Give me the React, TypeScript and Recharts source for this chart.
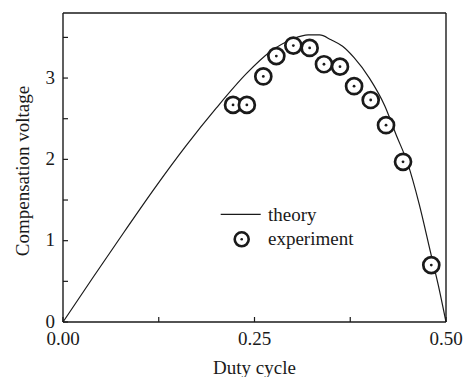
import {
  ComposedChart,
  Legend,
  Line,
  Scatter,
  XAxis,
  YAxis,
} from "recharts";

// Theory curve, read at irregular duty-cycle steps
const theoryDuty = [
  0, 0.04, 0.08, 0.12, 0.16, 0.2, 0.24, 0.27, 0.3, 0.32, 0.335, 0.35, 0.365,
  0.38, 0.4, 0.42, 0.435, 0.45, 0.465, 0.48, 0.49, 0.5,
];
const theoryVolt = [
  0, 0.56, 1.11, 1.65, 2.16, 2.63, 3.06, 3.32, 3.48, 3.53, 3.53, 3.47, 3.39,
  3.25, 3.0, 2.66, 2.3, 1.95, 1.45, 0.85, 0.45, 0,
];

// Measured points
const expDuty = [
  0.222, 0.24, 0.2615, 0.2785, 0.3007, 0.322, 0.3407, 0.3616, 0.38, 0.4017,
  0.4217, 0.4439, 0.4808,
];
const expVolt = [
  2.67, 2.67, 3.02, 3.27, 3.4, 3.37, 3.17, 3.14, 2.9, 2.73, 2.42, 1.97, 0.7,
];

const xTicks = [0, 0.125, 0.25, 0.375, 0.5];
const xLabels = [0, 0.25, 0.5];
const yTicks = [0, 0.5, 1, 1.5, 2, 2.5, 3, 3.5];
const yLabels = [0, 1, 2, 3];

const theory = theoryDuty.map((d, i) => ({ duty: d, v: theoryVolt[i] }));
const experiment = expDuty.map((d, i) => ({ duty: d, v: expVolt[i] }));

const FONT = "'Liberation Serif', 'DejaVu Serif', serif";
const INK = "#1a1a1a";
const TICK = 5;

const BottomTick = ({ x, y, payload }: any) => (
  <g>
    <line x1={x} y1={y} x2={x} y2={y - TICK} stroke={INK} strokeWidth={1.2} />
    {xLabels.includes(payload.value) && (
      <text x={x} y={y + 23} textAnchor="middle" fontFamily={FONT} fontSize={19} fill={INK}>
        {payload.value.toFixed(2)}
      </text>
    )}
  </g>
);

const TopTick = ({ x, y }: any) => (
  <line x1={x} y1={y} x2={x} y2={y + TICK} stroke={INK} strokeWidth={1.2} />
);

const LeftTick = ({ x, y, payload }: any) => (
  <g>
    <line x1={x} y1={y} x2={x + TICK} y2={y} stroke={INK} strokeWidth={1.2} />
    {yLabels.includes(payload.value) && (
      <text x={x - 8} y={y} dy="0.3em" textAnchor="end" fontFamily={FONT} fontSize={19} fill={INK}>
        {payload.value}
      </text>
    )}
  </g>
);

const RightTick = ({ x, y }: any) => (
  <line x1={x} y1={y} x2={x - TICK} y2={y} stroke={INK} strokeWidth={1.2} />
);

const Ring = ({ cx, cy }: any) => (
  <g>
    <circle cx={cx} cy={cy} r={8} fill="#fff" stroke={INK} strokeWidth={2.7} />
    <circle cx={cx} cy={cy} r={1.4} fill={INK} />
  </g>
);

const LegendBox = () => (
  <svg width={160} height={55}>
    <line x1={5.7} y1={14.3} x2={45.7} y2={14.3} stroke={INK} strokeWidth={1.2} />
    <text x={53} y={21} fontFamily={FONT} fontSize={19} fill={INK}>
      theory
    </text>
    <circle cx={26.7} cy={39.3} r={7} fill="#fff" stroke={INK} strokeWidth={2.6} />
    <circle cx={26.7} cy={39.3} r={1.3} fill={INK} />
    <text x={53} y={45} fontFamily={FONT} fontSize={19} fill={INK}>
      experiment
    </text>
  </svg>
);

export default function App() {
  return (
    <div style={{ position: "absolute", left: 0, top: 0, background: "#fff" }}>
      <ComposedChart
        width={464}
        height={377}
        margin={{ top: 12, right: 17, bottom: 0, left: 0 }}
      >
        <XAxis
          xAxisId="b"
          dataKey="duty"
          type="number"
          domain={[0, 0.5]}
          ticks={xTicks}
          interval={0}
          height={55}
          tickSize={0}
          tickMargin={0}
          tickLine={false}
          tick={<BottomTick />}
          axisLine={{ stroke: INK, strokeWidth: 1.4 }}
          label={({ viewBox }: any) => (
            <text
              x={viewBox.x + viewBox.width / 2}
              y={374}
              textAnchor="middle"
              fontFamily={FONT}
              fontSize={19}
              fill={INK}
            >
              Duty cycle
            </text>
          )}
        />
        <XAxis
          xAxisId="t"
          dataKey="duty"
          type="number"
          orientation="top"
          domain={[0, 0.5]}
          ticks={xTicks}
          interval={0}
          height={1}
          tickSize={0}
          tickMargin={0}
          tickLine={false}
          tick={<TopTick />}
          axisLine={{ stroke: INK, strokeWidth: 1.4 }}
        />
        <YAxis
          yAxisId="l"
          type="number"
          domain={[0, 3.8]}
          ticks={yTicks}
          interval={0}
          width={63}
          tickSize={0}
          tickMargin={0}
          tickLine={false}
          tick={<LeftTick />}
          axisLine={{ stroke: INK, strokeWidth: 1.4 }}
          label={() => (
            <text
              x={29}
              y={171}
              transform={`rotate(-90 29 171)`}
              textAnchor="middle"
              fontFamily={FONT}
              fontSize={19}
              fill={INK}
            >
              Compensation voltage
            </text>
          )}
        />
        <YAxis
          yAxisId="r"
          orientation="right"
          type="number"
          domain={[0, 3.8]}
          ticks={yTicks}
          interval={0}
          width={1}
          tickSize={0}
          tickMargin={0}
          tickLine={false}
          tick={<RightTick />}
          axisLine={{ stroke: INK, strokeWidth: 1.4 }}
        />
        <Line
          xAxisId="b"
          yAxisId="l"
          data={theory}
          dataKey="v"
          type="monotone"
          stroke={INK}
          strokeWidth={1.2}
          dot={false}
          isAnimationActive={false}
        />
        <Scatter
          xAxisId="b"
          yAxisId="l"
          data={experiment}
          dataKey="v"
          shape={<Ring />}
          isAnimationActive={false}
        />
        <Legend
          layout="horizontal"
          verticalAlign="middle"
          align="center"
          content={<LegendBox />}
          wrapperStyle={{ position: "absolute", left: 215, top: 200, width: 160, height: 55 }}
        />
      </ComposedChart>
    </div>
  );
}
